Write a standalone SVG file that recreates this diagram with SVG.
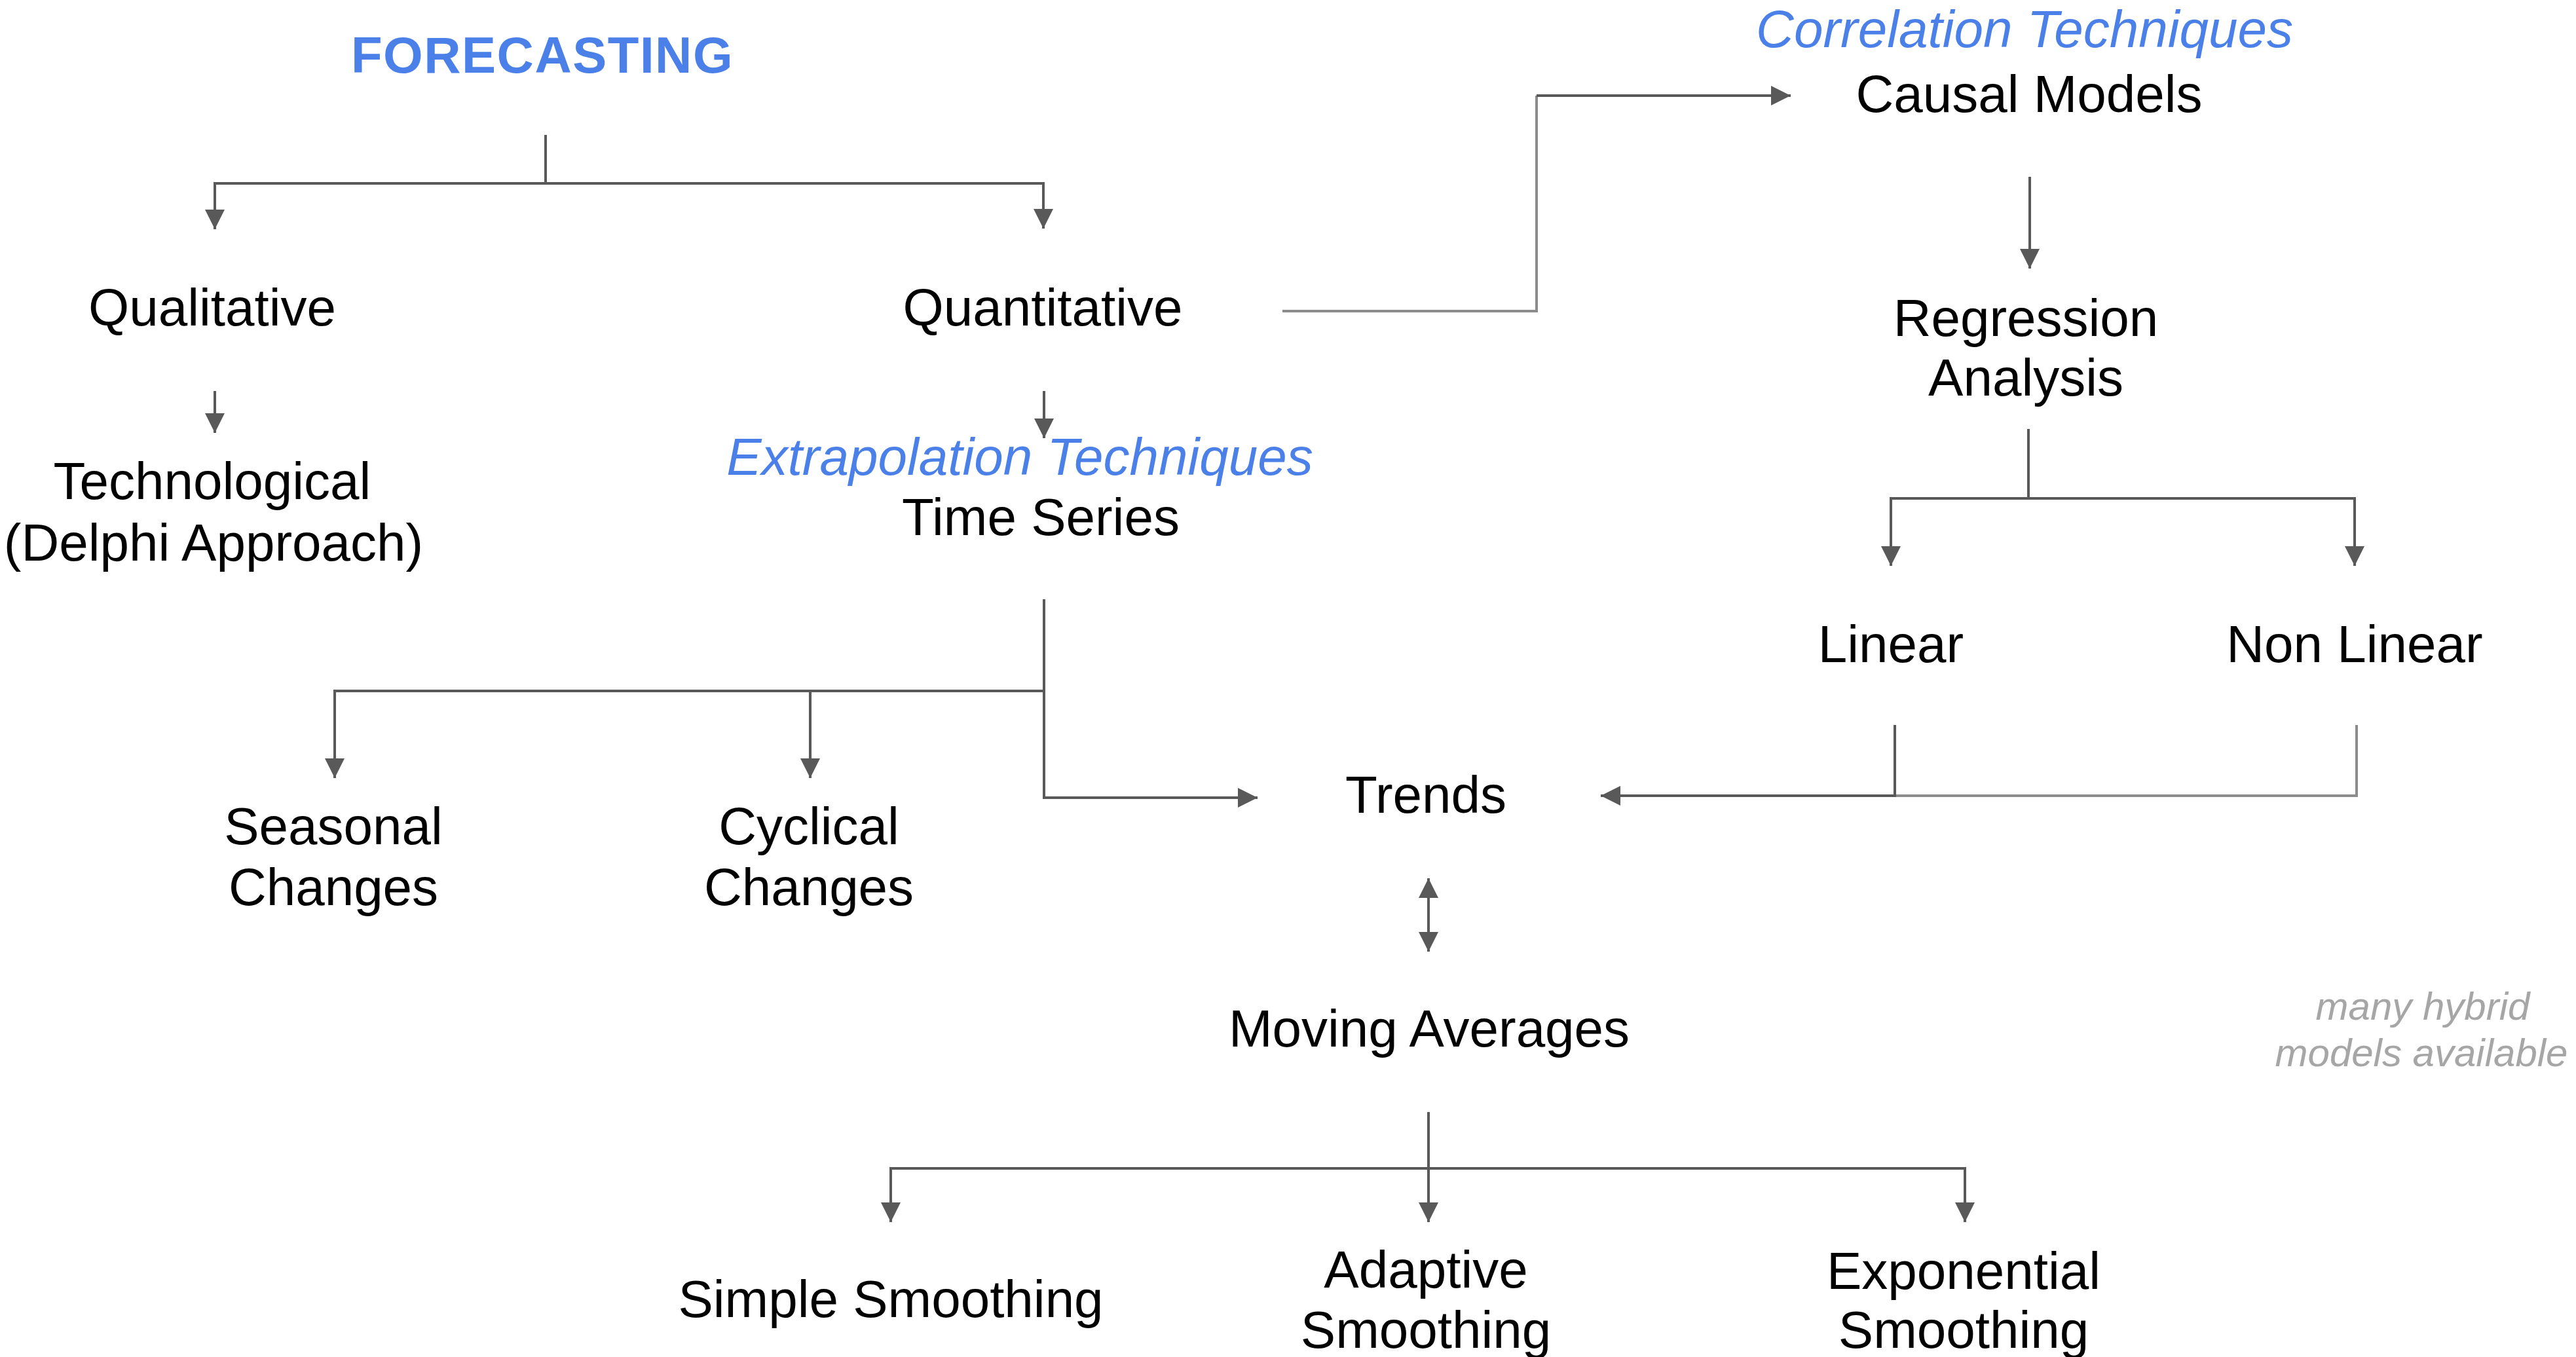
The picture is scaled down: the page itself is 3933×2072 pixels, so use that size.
<svg xmlns="http://www.w3.org/2000/svg" width="3933" height="2072" viewBox="0 0 3933 2072">
<style>
  .t { font-family: "Liberation Sans", Arial, sans-serif; font-size: 80px; fill: #000; text-anchor: middle; }
  .blue { font-family: "Liberation Sans", Arial, sans-serif; font-size: 80px; font-style: italic; fill: #4a80e8; text-anchor: middle; }
  .title { font-family: "Liberation Sans", Arial, sans-serif; font-size: 78px; font-weight: bold; fill: #4a80e8; text-anchor: middle; letter-spacing: 1.5px; }
  .note { font-family: "Liberation Sans", Arial, sans-serif; font-size: 60px; font-style: italic; fill: #a6a6a6; text-anchor: middle; }
  .c { fill: none; stroke: #595959; stroke-width: 4; }
  .cl { fill: none; stroke: #8c8c8c; stroke-width: 4; }
</style>
<defs>
  <marker id="arr" viewBox="0 0 10 10" refX="10" refY="5" markerWidth="32" markerHeight="30" markerUnits="userSpaceOnUse" orient="auto-start-reverse">
    <path d="M0,0 L10,5 L0,10 Z" fill="#595959"/>
  </marker>
</defs>
<rect width="3933" height="2072" fill="#ffffff"/>

<g id="connectors">
  <path class="c" d="M833,206 V280 H328 V350" marker-end="url(#arr)"/>
  <path class="c" d="M833,280 H1593 V349" marker-end="url(#arr)"/>
  <path class="c" d="M328,597 V661" marker-end="url(#arr)"/>
  <path class="c" d="M1594,597 V669" marker-end="url(#arr)"/>
  <path class="cl" d="M1958,475 H2346 V146"/>
  <path class="c" d="M2346,146 H2734" marker-end="url(#arr)"/>
  <path class="c" d="M3099,270 V410" marker-end="url(#arr)"/>
  <path class="c" d="M3097,655 V761 H2887 V864" marker-end="url(#arr)"/>
  <path class="c" d="M3097,761 H3595 V864" marker-end="url(#arr)"/>
  <path class="cl" d="M3598,1107 V1215 H2893"/>
  <path class="c" d="M2893,1107 V1215 H2444" marker-end="url(#arr)"/>
  <path class="c" d="M1594,915 V1218 H1920" marker-end="url(#arr)"/>
  <path class="c" d="M1594,1055 H511 V1188" marker-end="url(#arr)"/>
  <path class="c" d="M1237,1055 V1188" marker-end="url(#arr)"/>
  <path class="c" d="M2181,1341 V1453" marker-start="url(#arr)" marker-end="url(#arr)"/>
  <path class="c" d="M2181,1698 V1866" marker-end="url(#arr)"/>
  <path class="c" d="M2181,1784 H1360 V1866" marker-end="url(#arr)"/>
  <path class="c" d="M2181,1784 H3000 V1866" marker-end="url(#arr)"/>
</g>

<g id="forecasting"><text class="title" x="828" y="111">FORECASTING</text></g>
<g id="qualitative"><text class="t" x="324" y="497">Qualitative</text></g>
<g id="quantitative"><text class="t" x="1592" y="497">Quantitative</text></g>
<g id="technological">
  <text class="t" x="324" y="762">Technological</text>
  <text class="t" x="326" y="856">(Delphi Approach)</text>
</g>
<g id="time-series">
  <text class="blue" x="1557" y="725">Extrapolation Techniques</text>
  <text class="t" x="1589" y="817">Time Series</text>
</g>
<g id="causal-models">
  <text class="blue" x="3091" y="72">Correlation Techniques</text>
  <text class="t" x="3098" y="171">Causal Models</text>
</g>
<g id="regression-analysis">
  <text class="t" x="3093" y="513">Regression</text>
  <text class="t" x="3093" y="604">Analysis</text>
</g>
<g id="linear"><text class="t" x="2887" y="1011">Linear</text></g>
<g id="non-linear"><text class="t" x="3595" y="1011">Non Linear</text></g>
<g id="seasonal-changes">
  <text class="t" x="509" y="1289">Seasonal</text>
  <text class="t" x="509" y="1382">Changes</text>
</g>
<g id="cyclical-changes">
  <text class="t" x="1235" y="1289">Cyclical</text>
  <text class="t" x="1235" y="1382">Changes</text>
</g>
<g id="trends"><text class="t" x="2177" y="1241">Trends</text></g>
<g id="moving-averages"><text class="t" x="2182" y="1598">Moving Averages</text></g>
<g id="simple-smoothing"><text class="t" x="1360" y="2011">Simple Smoothing</text></g>
<g id="adaptive-smoothing">
  <text class="t" x="2177" y="1966">Adaptive</text>
  <text class="t" x="2177" y="2058">Smoothing</text>
</g>
<g id="exponential-smoothing">
  <text class="t" x="2998" y="1968">Exponential</text>
  <text class="t" x="2998" y="2058">Smoothing</text>
</g>
<g id="hybrid-note">
  <text class="note" x="3699" y="1557">many hybrid</text>
  <text class="note" x="3697" y="1628">models available</text>
</g>
</svg>
